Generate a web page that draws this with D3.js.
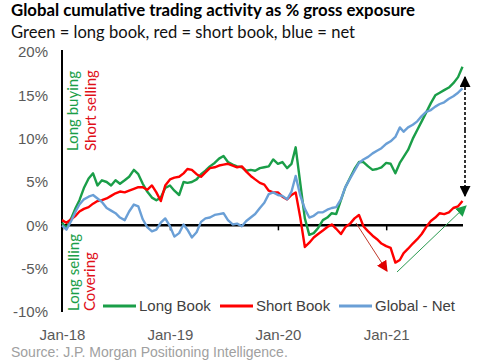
<!DOCTYPE html>
<html><head><meta charset="utf-8">
<script src="https://cdn.jsdelivr.net/npm/d3@7"></script>
<style>body{margin:0;background:#fff}svg{display:block}</style>
</head><body><svg id="c" width="500" height="364"></svg>
<script>
// semi-monthly observation dates, Jan-2018 .. mid-Sep-2021
const startYear = 2018, nPoints = 90;
const dates = [];
for (let k = 0; k < nPoints; k++) {
  const y = startYear + Math.floor(k / 24), m = Math.floor((k % 24) / 2), d = (k % 2) ? 16 : 1;
  dates.push(new Date(y, m, d));
}
const longBook = [0.3,-0.3,0.8,2.0,2.9,4.3,5.4,6.0,4.6,5.2,5.0,4.6,5.2,4.8,5.2,5.6,6.4,5.9,4.8,3.9,3.2,2.9,3.2,4.3,
  4.6,4.0,3.5,5.0,4.9,5.0,5.3,5.9,6.3,6.8,7.2,7.7,8.0,7.3,7.0,6.8,6.7,6.3,6.4,6.3,6.6,6.7,6.8,7.6,
  7.1,7.3,6.6,7.1,9.0,5.0,0.8,-1.1,-0.9,-0.3,0.6,0.9,1.4,1.3,2.9,4.4,5.5,6.5,7.3,7.3,6.8,6.4,6.5,6.7,
  7.2,7.1,6.0,7.2,7.9,8.7,10.0,11.0,12.0,13.0,14.1,15.0,15.3,15.6,15.9,16.4,17.1,18.3];
const shortBook = [0.6,0.3,0.7,1.1,1.6,1.9,2.1,2.5,2.8,2.9,3.1,3.4,3.7,3.9,3.8,4.0,4.2,4.4,4.4,4.1,4.6,3.8,2.8,4.6,
  5.3,5.5,5.6,6.0,6.5,6.4,5.9,5.6,6.1,6.6,6.7,6.9,7.0,7.1,6.9,6.7,6.8,6.2,5.7,5.3,4.9,4.7,4.0,3.8,
  3.8,3.3,3.0,3.5,3.8,1.0,-2.5,-2.0,-1.4,-1.0,-0.6,-0.2,0.1,-0.4,-1.0,-0.2,0.2,0.8,1.2,-0.1,-0.7,-1.2,-1.6,-2.1,
  -2.4,-2.6,-4.3,-4.0,-3.2,-2.7,-2.1,-1.6,-1.0,-0.2,0.5,0.9,1.4,1.3,1.5,2.0,2.2,2.8];
const globalNet = [0.0,-0.5,0.5,1.6,2.4,3.0,3.3,3.5,3.1,2.7,2.0,1.7,1.4,0.9,0.6,1.6,2.4,2.2,0.7,-0.2,-0.7,-0.5,0.3,0.8,
  -0.1,-1.3,-0.9,0.1,-0.5,-1.4,-0.8,0.4,0.8,0.9,1.2,1.3,1.4,0.6,0.1,0.2,-0.1,0.5,0.9,1.3,2.0,2.6,3.6,3.8,
  3.5,3.4,3.0,3.9,5.7,3.5,1.9,0.9,1.1,1.5,1.5,1.8,2.0,2.1,3.0,4.4,5.4,6.3,7.2,7.6,7.9,8.3,8.6,8.9,
  9.4,9.7,10.2,11.3,10.8,11.3,11.6,12.0,12.6,13.1,13.3,13.7,14.0,14.2,14.6,14.9,15.3,15.8];
const seriesNames = ["Long Book", "Short Book", "Global - Net"];
const seriesColors = ["#1a9e48", "#ff0000", "#6a9fd6"];
const yTicks = [-10, -5, 0, 5, 10, 15, 20];
const xTickYears = [2018, 2019, 2020, 2021];

const svg = d3.select("#c");
const x = d3.scaleTime().domain([new Date(2018,0,1), new Date(2021,8,16)]).range([62, 462.5]);
const y = d3.scaleLinear().domain([-10, 20]).range([312, 52]);
const font = "Liberation Sans, Arial, sans-serif";

function fit(sel, w) {
  const n = sel.node(); let fs = parseFloat(sel.attr("font-size"));
  for (let i = 0; i < 3; i++) { const l = n.getComputedTextLength(); fs *= w / l; sel.attr("font-size", fs); }
}
// titles
fit(svg.append("text").attr("x", 11).attr("y", 16).attr("font-family", "Lato, sans-serif").attr("font-weight", "bold")
  .attr("font-size", 16).attr("fill", "#000").text("Global cumulative trading activity as % gross exposure"), 404);
fit(svg.append("text").attr("x", 11).attr("y", 38).attr("font-family", "Lato, sans-serif")
  .attr("font-size", 15).attr("fill", "#111").text("Green = long book, red = short book, blue = net"), 344);

// y axis labels
const ya = svg.append("g").attr("transform", "translate(62,0)")
  .call(d3.axisLeft(y).tickValues(yTicks).tickSize(0).tickPadding(14).tickFormat(d => d + "%"));
ya.select(".domain").remove();
ya.selectAll("text").attr("font-family", font).attr("font-size", 15).attr("fill", "#595959");
svg.append("line").attr("x1", 62).attr("x2", 62).attr("y1", 50).attr("y2", y(-10)).attr("stroke", "#000").attr("stroke-width", 2);

// zero axis with ticks
const xa = svg.append("g").attr("transform", `translate(0,${y(0)})`)
  .call(d3.axisBottom(x).tickValues(xTickYears.map(v => new Date(v,0,1))).tickSize(5).tickFormat(""));
xa.select(".domain").attr("stroke", "#000").attr("stroke-width", 2.5).attr("d", `M62,0H463`);
xa.selectAll(".tick line").attr("stroke", "#000").attr("stroke-width", 1.5);
// x labels at bottom
const xl = svg.append("g").attr("transform", "translate(0,326)")
  .call(d3.axisBottom(x).tickValues(xTickYears.map(v => new Date(v,0,1))).tickSize(0).tickFormat(d3.timeFormat("%b-%y")));
xl.select(".domain").remove();
xl.selectAll("text").attr("font-family", font).attr("font-size", 15).attr("fill", "#595959");

// lines
const line = d3.line().x((d, i) => x(dates[i])).y(d => y(d));
[longBook, shortBook, globalNet].forEach((s, i) => {
  svg.append("path").datum(s).attr("d", line).attr("fill", "none").attr("stroke", seriesColors[i])
    .attr("stroke-width", 2.4).attr("stroke-linejoin", "round");
});
// redraw order: net on top of green? keep as is

// rotated annotations
function vtext(cx, bottom, txt, col) {
  svg.append("text").attr("transform", `translate(${cx},${bottom}) rotate(-90)`).attr("dy", "0.35em")
    .attr("font-family", "Lato, Calibri, sans-serif").attr("font-size", 15).attr("fill", col).text(txt);
}
vtext(73, 151, "Long buying", "#1a9e48");
vtext(91, 151, "Short selling", "#e0101a");
vtext(74, 311, "Long selling", "#1a9e48");
vtext(90, 311, "Covering", "#e0101a");

// arrows
const defs = svg.append("defs");
function marker(id, col, w, h) {
  defs.append("marker").attr("id", id).attr("viewBox", "0 0 10 10").attr("refX", 9).attr("refY", 5)
    .attr("markerWidth", w).attr("markerHeight", h).attr("markerUnits", "userSpaceOnUse").attr("orient", "auto")
    .append("path").attr("d", "M0,0L10,5L0,10Z").attr("fill", col);
}
marker("ar", "#e00000", 11, 11); marker("ag", "#1a9e48", 11, 11); marker("ab", "#000", 11, 11);
svg.append("line").attr("x1", 356).attr("y1", 223).attr("x2", 387).attr("y2", 271).attr("stroke", "#c0392b").attr("stroke-width", 1).attr("marker-end", "url(#ar)");
svg.append("line").attr("x1", 397).attr("y1", 272).attr("x2", 466).attr("y2", 206).attr("stroke", "#2a9a50").attr("stroke-width", 1).attr("marker-end", "url(#ag)");
svg.append("line").attr("x1", 465).attr("y1", 130).attr("x2", 465).attr("y2", 77).attr("stroke", "#000").attr("stroke-width", 1.6).attr("stroke-dasharray", "3,2").attr("marker-end", "url(#ab)");
svg.append("line").attr("x1", 465).attr("y1", 130).attr("x2", 465).attr("y2", 196).attr("stroke", "#000").attr("stroke-width", 1.6).attr("stroke-dasharray", "3,2").attr("marker-end", "url(#ab)");

// legend
const legX = [103, 220, 339];
seriesNames.forEach((n, i) => {
  svg.append("line").attr("x1", legX[i]).attr("x2", legX[i] + 33).attr("y1", 306).attr("y2", 306)
    .attr("stroke", seriesColors[i]).attr("stroke-width", 3);
  svg.append("text").attr("x", legX[i] + 36).attr("y", 306).attr("dy", "0.35em").attr("font-family", font)
    .attr("font-size", 15).attr("fill", "#404040").text(n);
});
// source
svg.append("text").attr("x", 11).attr("y", 352).attr("dy", "0.35em").attr("font-family", font)
  .attr("font-size", 14).attr("fill", "#a0a0a0").text("Source: J.P. Morgan Positioning Intelligence.");
</script></body></html>
